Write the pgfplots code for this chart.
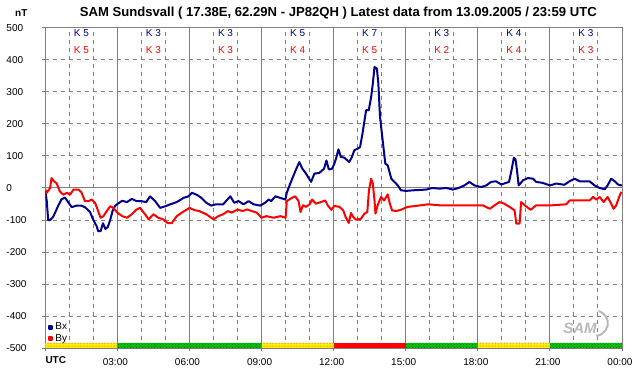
\documentclass[border=0pt]{standalone}
\usepackage{fontspec}
\setmainfont{Liberation Sans}
\usepackage{pgfplots}
\pgfplotsset{compat=1.18}
\usetikzlibrary{patterns}
\definecolor{bxc}{RGB}{0,0,140}
\definecolor{byc}{RGB}{255,0,0}
\definecolor{gridc}{RGB}{128,128,128}
\definecolor{barg}{RGB}{0,200,0}
\definecolor{bargd}{RGB}{0,90,0}
\begin{document}
\begin{tikzpicture}
\begin{axis}[
  scale only axis, width=576.7pt, height=320pt,
  at={(0,0)}, anchor=south west,
  xmin=0, xmax=24, ymin=-500, ymax=500,
  axis line style={draw=gridc, line width=1pt},
  xtick={0,3,...,24},
  xticklabels={,03:00,06:00,09:00,12:00,15:00,18:00,21:00,00:00},
  minor xtick={1,2,4,5,7,8,10,11,13,14,16,17,19,20,22,23},
  ytick={-500,-400,...,500},
  minor ytick={-400,-300,-200,-100,100,200,300,400},
  xmajorgrids=true, xminorgrids=true, yminorgrids=true, ymajorgrids=false,
  major grid style={solid, draw=gridc, line width=1pt},
  minor grid style={draw=gridc, line width=1pt, dash pattern=on 4pt off 4pt},
  extra y ticks={0}, extra y tick labels={},
  extra y tick style={ymajorgrids=true, major tick length=0pt},
  tick pos=left, tick align=outside,
  major tick length=3pt, minor tick length=0pt,
  tick style={draw=gridc, line width=1pt},
  /pgf/number format/assume math mode=true,
  yticklabel style={anchor=west, inner sep=0pt, xshift=-36pt, font=\fontsize{10}{12}\selectfont},
  xticklabel style={inner sep=0pt, yshift=-7pt, xshift=-2pt, font=\fontsize{10}{12}\selectfont},
  legend style={at={(axis cs:0,-500)}, anchor=south west, xshift=3pt, yshift=3pt,
    draw=none, fill=none, inner sep=0pt, row sep=-1pt,
    font=\fontsize{10}{11}\selectfont, legend cell align=left},
  legend image code/.code={\fill[#1] (0.5pt,-1.5pt) rectangle (3.5pt,1.5pt);},
]
% status bar
\addplot[draw=none, fill=yellow, postaction={pattern=dots, pattern color=red}, forget plot] coordinates {(0,-500)(3,-500)(3,-484)(0,-484)} -- cycle;
\addplot[draw=none, fill=barg, postaction={pattern=crosshatch dots, pattern color=bargd}, forget plot] coordinates {(3,-500)(9,-500)(9,-484)(3,-484)} -- cycle;
\addplot[draw=none, fill=yellow, postaction={pattern=dots, pattern color=red}, forget plot] coordinates {(9,-500)(12,-500)(12,-484)(9,-484)} -- cycle;
\addplot[draw=none, fill=red, forget plot] coordinates {(12,-500)(15,-500)(15,-484)(12,-484)} -- cycle;
\addplot[draw=none, fill=barg, postaction={pattern=crosshatch dots, pattern color=bargd}, forget plot] coordinates {(15,-500)(18,-500)(18,-484)(15,-484)} -- cycle;
\addplot[draw=none, fill=yellow, postaction={pattern=dots, pattern color=red}, forget plot] coordinates {(18,-500)(21,-500)(21,-484)(18,-484)} -- cycle;
\addplot[draw=none, fill=barg, postaction={pattern=crosshatch dots, pattern color=bargd}, forget plot] coordinates {(21,-500)(24,-500)(24,-484)(21,-484)} -- cycle;
% Bx
\addplot[bxc, line width=2pt, line join=round, mark=none] coordinates {
(0,-10)(0.06,-40)(0.12,-100)(0.2,-100)(0.33,-90)(0.45,-70)(0.54,-55)(0.68,-35)(0.82,-30)(0.96,-45)(1.1,-60)(1.3,-55)(1.5,-55)(1.65,-60)(1.86,-75)(2.0,-100)(2.14,-120)(2.2,-135)(2.3,-135)(2.4,-110)(2.5,-128)(2.6,-122)(2.7,-100)(2.8,-72)(2.9,-57)(3.0,-50)(3.2,-40)(3.4,-44)(3.6,-34)(3.8,-41)(4.0,-41)(4.2,-44)(4.36,-26)(4.57,-41)(4.78,-62)(5.0,-57)(5.2,-51)(5.4,-46)(5.54,-41)(5.75,-31)(5.96,-26)(6.1,-15)(6.3,-21)(6.5,-31)(6.7,-46)(6.9,-55)(7.1,-51)(7.4,-51)(7.7,-26)(7.86,-46)(8.04,-41)(8.25,-51)(8.46,-41)(8.67,-51)(8.94,-55)(9.15,-46)(9.3,-36)(9.4,-41)(9.57,-26)(9.78,-31)(9.99,-36)(10.05,-15)(10.2,15)(10.4,52)
(10.57,81)(10.7,60)(10.85,45)(11.06,19)(11.2,45)(11.4,47)(11.6,60)(11.7,86)(11.8,58)(11.93,60)(12.03,76)(12.1,92)(12.2,121)(12.3,97)(12.44,95)(12.65,81)(12.76,97)(12.86,118)(13.0,123)(13.1,128)(13.2,170)(13.35,243)(13.46,243)(13.56,284)(13.63,326)(13.7,378)(13.8,373)(13.86,326)(13.93,222)(14.04,149)(14.15,76)(14.25,71)(14.4,29)(14.53,19)(14.67,8)(14.8,-7)(15.0,-9)(15.36,-7)(15.85,-5)(16.1,0)(16.4,-2)(16.7,0)(16.96,-5)(17.2,0)(17.44,8)(17.65,19)(17.86,8)(18.14,3)(18.35,8)(18.55,19)(18.76,21)(18.97,11)(19.1,14)(19.3,19)(19.4,55)(19.5,95)(19.57,89)(19.63,55)(19.7,8)(19.88,24)(20.08,31)(20.3,29)(20.43,19)(20.7,16)(21.0,8)(21.26,14)(21.6,10)(21.82,21)(22.03,29)(22.24,21)(22.65,21)(22.86,8)(23.07,0)(23.28,-4)(23.4,8)(23.55,29)(23.7,21)(23.83,11)(23.97,8)(24,8)
};
\addlegendentry{Bx}
% By
\addplot[byc, line width=2pt, line join=round, mark=none] coordinates {
(0,-5)(0.06,-15)(0.2,0)(0.26,31)(0.36,21)(0.47,15)(0.6,-10)(0.75,-21)(0.9,-15)(1.03,-21)(1.17,-5)(1.38,-5)(1.5,-13)(1.65,-41)(1.8,-41)(1.93,-36)(2.07,-46)(2.2,-72)(2.3,-93)(2.42,-88)(2.56,-72)(2.7,-57)(2.83,-62)(3.0,-77)(3.2,-88)(3.4,-93)(3.6,-82)(3.8,-67)(3.94,-62)(4.15,-82)(4.3,-98)(4.5,-82)(4.7,-93)(4.9,-98)(5.1,-110)(5.26,-110)(5.47,-88)(5.68,-77)(5.9,-67)(6.0,-62)(6.2,-69)(6.4,-72)(6.7,-82)(7.0,-98)(7.2,-88)(7.4,-82)(7.6,-72)(7.76,-77)(8.0,-67)(8.2,-72)(8.4,-67)(8.6,-72)(8.8,-77)(9.0,-93)(9.2,-88)(9.5,-93)(9.78,-88)(10.0,-93)(10.05,-41)(10.26,-31)(10.4,-26)(10.54,-41)
(10.62,-75)(10.72,-54)(10.85,-59)(11.0,-51)(11.1,-36)(11.26,-49)(11.47,-44)(11.65,-39)(11.75,-54)(11.9,-68)(12.03,-56)(12.24,-59)(12.4,-70)(12.5,-91)(12.63,-109)(12.72,-78)(12.82,-91)(12.93,-99)(13.14,-96)(13.28,-80)(13.4,-75)(13.47,-7)(13.56,29)(13.63,14)(13.7,-39)(13.74,-80)(13.83,-54)(13.97,-28)(14.1,-39)(14.25,-20)(14.32,-44)(14.43,-70)(14.6,-72)(14.8,-68)(15.08,-59)(15.43,-56)(15.92,-51)(16.4,-54)(16.96,-54)(17.5,-54)(18.2,-54)(18.5,-65)(18.7,-54)(18.9,-44)(19.1,-49)(19.32,-59)(19.53,-70)(19.6,-111)(19.74,-111)(19.8,-44)(20.0,-57)(20.2,-68)(20.43,-54)(20.85,-54)(21.1,-54)(21.68,-51)(21.82,-39)(22.24,-39)(22.65,-39)(22.8,-28)(22.93,-36)(23.07,-28)(23.24,-44)(23.4,-28)(23.55,-49)(23.65,-65)(23.76,-54)(23.88,-28)(23.97,-12)
};
\addlegendentry{By}
% K indices
\begin{scope}[every node/.style={font=\fontsize{10}{12}\selectfont, inner sep=0pt}]
\node[text=bxc] at (axis cs:1.5,484) {K 5};  \node[text=byc] at (axis cs:1.5,431) {K 5};
\node[text=bxc] at (axis cs:4.5,484) {K 3};  \node[text=byc] at (axis cs:4.5,431) {K 3};
\node[text=bxc] at (axis cs:7.5,484) {K 3};  \node[text=byc] at (axis cs:7.5,431) {K 3};
\node[text=bxc] at (axis cs:10.5,484) {K 5}; \node[text=byc] at (axis cs:10.5,431) {K 4};
\node[text=bxc] at (axis cs:13.5,484) {K 7}; \node[text=byc] at (axis cs:13.5,431) {K 5};
\node[text=bxc] at (axis cs:16.5,484) {K 3}; \node[text=byc] at (axis cs:16.5,431) {K 2};
\node[text=bxc] at (axis cs:19.5,484) {K 4}; \node[text=byc] at (axis cs:19.5,431) {K 4};
\node[text=bxc] at (axis cs:22.5,484) {K 3}; \node[text=byc] at (axis cs:22.5,431) {K 3};
\end{scope}
\node[font=\bfseries\itshape\fontsize{15}{15}\selectfont, text=gray!55] at (axis cs:22.25,-437) {SAM};
\end{axis}
\node[anchor=north west, inner sep=0pt, font=\bfseries\fontsize{10}{12}\selectfont] at (0pt,-8pt) {UTC};
\node[font=\bfseries\fontsize{13.1}{15}\selectfont] at (293pt,334.5pt) {SAM Sundsvall ( 17.38E, 62.29N - JP82QH ) Latest data from 13.09.2005 / 23:59 UTC};
\node[font=\bfseries\fontsize{10}{12}\selectfont] at (-24pt,334.5pt) {nT};
\draw[gray!55, line width=2pt] (551pt,12pt) arc[start angle=-80, end angle=70, x radius=14pt, y radius=13pt];
\pgfresetboundingbox
\path[use as bounding box] (-45.3pt,-28pt) rectangle (596.7pt,348pt);
\end{tikzpicture}
\end{document}
